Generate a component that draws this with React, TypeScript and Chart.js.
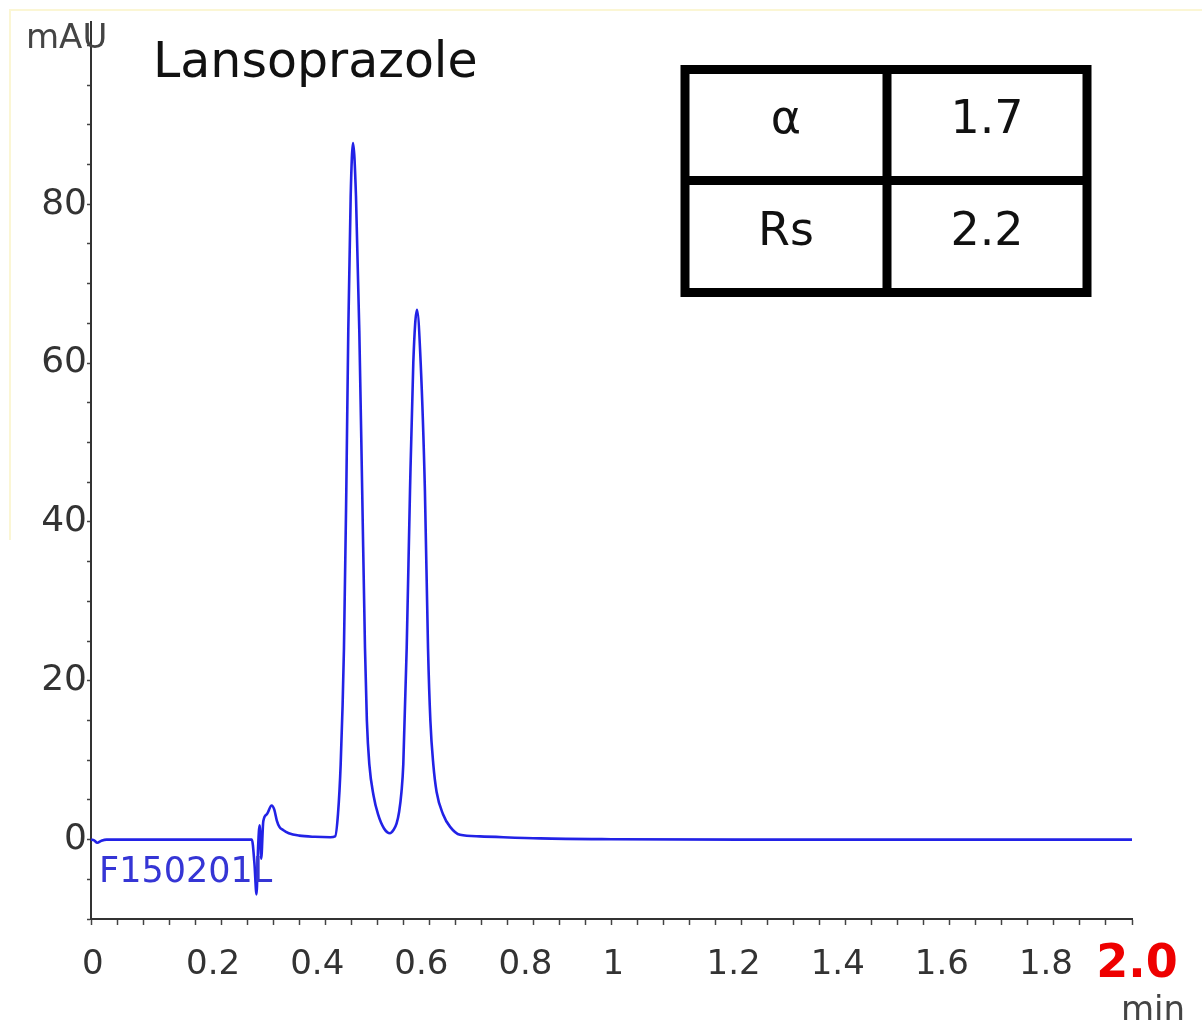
import React, { useEffect, useRef } from "react";
import { Chart, registerables } from "chart.js";

Chart.register(...registerables);

// ---- Data ----
const timeMin = [
  0, 0.006, 0.012, 0.02, 0.03, 0.1, 0.2, 0.3, 0.309, 0.314, 0.318, 0.321, 0.324,
  0.327, 0.331, 0.338, 0.347, 0.352, 0.357, 0.362, 0.369, 0.38, 0.4, 0.43, 0.46,
  0.469, 0.4745, 0.4797, 0.486, 0.4905, 0.4943, 0.4989, 0.5034, 0.5091, 0.5155,
  0.521, 0.5264, 0.53, 0.5347, 0.543, 0.5514, 0.563, 0.5744, 0.581, 0.587, 0.592,
  0.5965, 0.6, 0.6065, 0.6129, 0.6192, 0.6263, 0.6334, 0.6415, 0.6475, 0.652,
  0.6576, 0.664, 0.6763, 0.69, 0.709, 0.747, 0.863, 1.0, 1.247, 1.6, 2.0,
];
const signalMAU = [
  0, -0.1, -0.4, -0.15, 0, 0, 0, 0, 0, -3, -6.9, -1, 1.8, -2.4, 2.3, 3.2, 4.3,
  3.8, 2.4, 1.6, 1.2, 0.8, 0.5, 0.35, 0.3, 0.4, 3.2, 9.5, 24.1, 44, 64, 81, 87.7,
  81, 64, 44, 24.1, 15, 9.5, 5.5, 3.2, 1.4, 0.8, 1.2, 2.0, 3.5, 6, 9.5, 24.1, 44,
  60, 66.7, 60, 44, 24.1, 15, 9.5, 6, 3.2, 1.6, 0.6, 0.4, 0.15, 0.05, 0, 0, 0,
];
const xTickLabels = [0, 0.2, 0.4, 0.6, 0.8, 1, 1.2, 1.4, 1.6, 1.8];
const xEndLabel = "2.0";
const xEndValue = 2;
const yTickLabels = [0, 20, 40, 60, 80];
const chartTitle = "Lansoprazole";
const sampleName = "F150201L";
const yUnit = "mAU";
const xUnit = "min";
const tableNames = ["α", "Rs"];
const tableValues = ["1.7", "2.2"];

const FONT = '"DejaVu Sans", Verdana, sans-serif';

const isNear = (a: number, b: number) => Math.abs(a - b) < 1e-6;

const annotationPlugin = {
  id: "annotations",
  afterDraw(chart: any) {
    const ctx = chart.ctx as CanvasRenderingContext2D;
    ctx.save();

    // faint scan border
    ctx.strokeStyle = "#fbf6d4";
    ctx.lineWidth = 2;
    ctx.beginPath();
    ctx.moveTo(10, 540);
    ctx.lineTo(10, 10);
    ctx.lineTo(1202, 10);
    ctx.stroke();

    // title
    ctx.fillStyle = "#111";
    ctx.textAlign = "left";
    ctx.textBaseline = "alphabetic";
    ctx.font = `49px ${FONT}`;
    ctx.fillText(chartTitle, 153, 77);

    // units
    ctx.fillStyle = "#444";
    ctx.font = `34px ${FONT}`;
    ctx.fillText(yUnit, 26, 48);
    ctx.fillText(xUnit, 1121, 1020);

    // red end label of the time axis
    const xs = chart.scales.x;
    ctx.fillStyle = "#ee0000";
    ctx.font = `bold 46px ${FONT}`;
    ctx.textAlign = "center";
    ctx.fillText(xEndLabel, xs.getPixelForValue(xEndValue) + 5, 977);

    // sample label
    ctx.textAlign = "left";
    ctx.fillStyle = "#3535d5";
    ctx.font = `35px ${FONT}`;
    ctx.fillText(sampleName, 99, 882);

    // table
    const L = 685, R = 1087, T = 69.5, B = 292.5, VX = 887, HY = 180.5;
    ctx.strokeStyle = "#000";
    ctx.lineWidth = 9;
    ctx.strokeRect(L, T, R - L, B - T);
    ctx.beginPath();
    ctx.moveTo(VX, T);
    ctx.lineTo(VX, B);
    ctx.moveTo(L, HY);
    ctx.lineTo(R, HY);
    ctx.stroke();

    ctx.fillStyle = "#111";
    ctx.font = `46px ${FONT}`;
    ctx.textAlign = "center";
    const colA = (L + VX) / 2;
    const colB = (VX + R) / 2;
    const rowBase = [(T + HY) / 2 + 8, (HY + B) / 2 + 8];
    tableNames.forEach((n, i) => {
      ctx.fillText(n, colA, rowBase[i]);
      ctx.fillText(tableValues[i], colB, rowBase[i]);
    });

    ctx.restore();
  },
};

export default function App() {
  const canvasRef = useRef<HTMLCanvasElement | null>(null);

  useEffect(() => {
    if (!canvasRef.current) return;
    const chart = new Chart(canvasRef.current, {
      type: "line",
      data: {
        datasets: [
          {
            data: timeMin.map((t, i) => ({ x: t, y: signalMAU[i] })),
            borderColor: "#2222e6",
            borderWidth: 2.6,
            pointRadius: 0,
            cubicInterpolationMode: "monotone",
            fill: false,
          },
        ],
      },
      options: {
        animation: false,
        responsive: false,
        devicePixelRatio: 1,
        layout: { padding: { left: 0, right: 70, top: 20, bottom: 0 } },
        plugins: {
          legend: { display: false },
          tooltip: { enabled: false },
          title: { display: false },
        },
        scales: {
          x: {
            type: "linear",
            min: 0,
            max: 2,
            border: { display: true, color: "#333", width: 2 },
            grid: {
              display: true,
              drawOnChartArea: false,
              drawTicks: true,
              tickLength: 6,
              tickColor: "#444",
              tickWidth: 1.5,
            },
            ticks: {
              stepSize: 0.05,
              maxTicksLimit: 100,
              autoSkip: false,
              maxRotation: 0,
              includeBounds: false,
              padding: 20,
              align: "start",
              labelOffset: -9,
              color: "#333",
              font: { family: FONT, size: 34 },
              callback: (value: any) => {
                const v = Number(value);
                const match = xTickLabels.find((l) => isNear(l, v));
                if (match === undefined) return "";
                return String(Number(match.toFixed(2)));
              },
            },
            afterFit: (scale: any) => {
              scale.height = 107;
            },
          },
          y: {
            type: "linear",
            min: -10,
            max: 103,
            border: { display: true, color: "#333", width: 2 },
            grid: {
              display: true,
              drawOnChartArea: false,
              drawTicks: true,
              tickLength: 4,
              tickColor: "#444",
              tickWidth: 1.5,
            },
            ticks: {
              stepSize: 5,
              maxTicksLimit: 100,
              autoSkip: false,
              includeBounds: false,
              padding: 0,
              color: "#333",
              font: { family: FONT, size: 36 },
              callback: (value: any) => {
                const v = Number(value);
                const match = yTickLabels.find((l) => isNear(l, v));
                return match === undefined ? "" : String(match);
              },
            },
            afterFit: (scale: any) => {
              scale.width = 91;
            },
          },
        },
      },
      plugins: [annotationPlugin],
    });
    return () => chart.destroy();
  }, []);

  return (
    <div
      style={{
        position: "absolute",
        left: 0,
        top: 0,
        width: 1202,
        height: 1026,
        background: "#fff",
      }}
    >
      <canvas ref={canvasRef} width={1202} height={1026} />
    </div>
  );
}
